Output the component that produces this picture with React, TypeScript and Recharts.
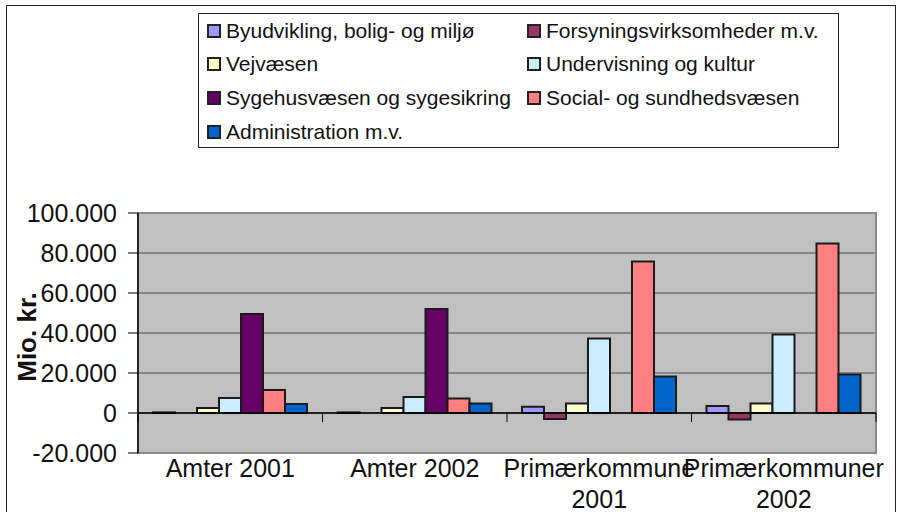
import React from 'react';
import {
  BarChart,
  Bar,
  XAxis,
  YAxis,
  CartesianGrid,
  Legend,
  ReferenceLine,
  ReferenceArea,
} from 'recharts';

// ---- data ----
const categories = ['Amter 2001', 'Amter 2002', 'Primærkommune 2001', 'Primærkommuner 2002'];
const categoryLabels = ['Amter 2001', 'Amter 2002', 'Primærkommune\n2001', 'Primærkommuner\n2002'];

const byudvikling = [300, 300, 3100, 3500];
const forsyning = [null, null, -3000, -3200];
const vejvaesen = [2500, 2500, 4700, 4700];
const undervisning = [7500, 8000, 37300, 39300];
const sygehus = [49500, 52000, null, null];
const social = [11500, 7300, 75800, 84800];
const administration = [4500, 4800, 18200, 19200];

const yTicks = [-20000, 0, 20000, 40000, 60000, 80000, 100000];

const seriesNames = [
  'Byudvikling, bolig- og miljø',
  'Forsyningsvirksomheder m.v.',
  'Vejvæsen',
  'Undervisning og kultur',
  'Sygehusvæsen og sygesikring',
  'Social- og sundhedsvæsen',
  'Administration m.v.',
];
const seriesKeys = ['byu', 'for', 'vej', 'und', 'syg', 'soc', 'adm'];
const seriesValues = [byudvikling, forsyning, vejvaesen, undervisning, sygehus, social, administration];
const seriesColors = ['#9999FF', '#993366', '#FFFFCC', '#CCECFF', '#660066', '#FF8080', '#0066CC'];

const data = categories.map((c, i) => {
  const row: Record<string, any> = { name: c, label: categoryLabels[i] };
  seriesKeys.forEach((k, j) => {
    row[k] = seriesValues[j][i];
  });
  return row;
});

const FONT = '"Liberation Sans", Arial, Helvetica, sans-serif';
const TEXT = '#111';

const fmt = (v: number) => {
  const neg = v < 0;
  const s = Math.abs(v).toString().replace(/\B(?=(\d{3})+(?!\d))/g, '.');
  return (neg ? '-' : '') + s;
};

const CategoryTick = (props: any) => {
  const { x, y, payload } = props;
  const idx = payload && typeof payload.index === 'number' ? payload.index : categories.indexOf(payload.value);
  const lines = (categoryLabels[idx] ?? String(payload.value)).split('\n');
  return (
    <g>
      <text x={x} y={y} textAnchor="middle" fill={TEXT} fontSize={25} fontFamily={FONT}>
        {lines.map((l, i) => (
          <tspan key={i} x={x} dy={i === 0 ? 24 : 31}>
            {l}
          </tspan>
        ))}
      </text>
    </g>
  );
};

const ZeroAxis = (p: any) => {
  const { x1, y1, x2, y2 } = p;
  const n = categories.length;
  const ticks = [];
  for (let i = 0; i <= n; i++) {
    const x = x1 + ((x2 - x1) * i) / n;
    ticks.push(<line key={i} x1={x} x2={x} y1={y1} y2={y1 + 9} stroke="#000" strokeWidth={1} />);
  }
  return (
    <g>
      <line x1={x1} y1={y1} x2={x2} y2={y2} stroke="#000" strokeWidth={1.5} />
      {ticks}
    </g>
  );
};

const LegendContent = () => {
  return (
    <div
      style={{
        boxSizing: 'border-box',
        width: 641,
        height: 135,
        border: '1px solid #222',
        background: '#fff',
        display: 'grid',
        gridTemplateColumns: '320px 320px',
        gridAutoRows: '33.6px',
        paddingTop: 0,
        fontFamily: FONT,
        fontSize: 21,
        color: TEXT,
      }}
    >
      {seriesNames.map((name, i) => (
        <div key={i} style={{ display: 'flex', alignItems: 'center', paddingLeft: 8, whiteSpace: 'nowrap' }}>
          <span
            style={{
              display: 'inline-block',
              boxSizing: 'border-box',
              width: 14,
              height: 14,
              background: seriesColors[i],
              border: '2px solid #222',
              marginRight: 5,
              flex: '0 0 auto',
            }}
          />
          <span>{name}</span>
        </div>
      ))}
    </div>
  );
};

export default function App() {
  return (
    <div
      style={{
        position: 'absolute',
        left: 0,
        top: 0,
        width: 905,
        height: 512,
        background: '#fff',
        overflow: 'hidden',
        fontFamily: FONT,
      }}
    >
      <div
        style={{
          position: 'absolute',
          left: 6,
          top: 5,
          width: 890,
          height: 540,
          border: '1px solid #222',
          boxSizing: 'border-box',
        }}
      />
      <div style={{ position: 'absolute', left: 0, top: 0 }}>
        <BarChart
          width={905}
          height={512}
          data={data}
          margin={{ top: 213, right: 29, bottom: 0, left: 18 }}
          barCategoryGap={15}
          barGap={0}
          style={{ fontFamily: FONT }}
        >
          <CartesianGrid vertical={false} stroke="#4a4a4a" fill="#C0C0C0" fillOpacity={1} />
          <ReferenceArea
            y1={-20000}
            y2={100000}
            fill="none"
            stroke="#8a8a8a"
            strokeWidth={2}
            ifOverflow="visible"
          />
          <XAxis
            dataKey="name"
            height={59}
            axisLine={false}
            tickLine={false}
            tickSize={0}
            tickMargin={0}
            interval={0}
            tick={<CategoryTick />}
          />
          <YAxis
            width={120}
            domain={[-20000, 100000]}
            ticks={yTicks}
            interval={0}
            allowDataOverflow
            tickFormatter={fmt}
            tickSize={10}
            tickMargin={11}
            axisLine={{ stroke: '#000', strokeWidth: 1.5 }}
            tickLine={{ stroke: '#000', strokeWidth: 1 }}
            tick={{ fill: TEXT, fontSize: 25, fontFamily: FONT }}
            label={{
              content: (lp: any) => {
                const vb = lp.viewBox || { x: 18, y: 213, width: 120, height: 240 };
                const cx = vb.x + 18;
                const cy = vb.y + vb.height / 2 + 4;
                return (
                  <text
                    x={cx}
                    y={cy}
                    transform={`rotate(-90, ${cx}, ${cy})`}
                    textAnchor="middle"
                    fontSize={26}
                    fontWeight="bold"
                    fontFamily={FONT}
                    fill={TEXT}
                  >
                    Mio. kr.
                  </text>
                );
              },
            }}
          />
          <Legend
            layout="horizontal"
            verticalAlign="middle"
            align="center"
            content={<LegendContent />}
            wrapperStyle={{ position: 'absolute', top: 13, left: 198, width: 641, height: 135 }}
          />
          {seriesKeys.map((k, j) => (
            <Bar
              key={k}
              dataKey={k}
              name={seriesNames[j]}
              fill={seriesColors[j]}
              stroke="#1a1a1a"
              strokeWidth={2}
              isAnimationActive={false}
            />
          ))}
          <ReferenceLine y={0} stroke="#000" shape={(p: any) => <ZeroAxis {...p} />} ifOverflow="visible" />
        </BarChart>
      </div>
    </div>
  );
}
